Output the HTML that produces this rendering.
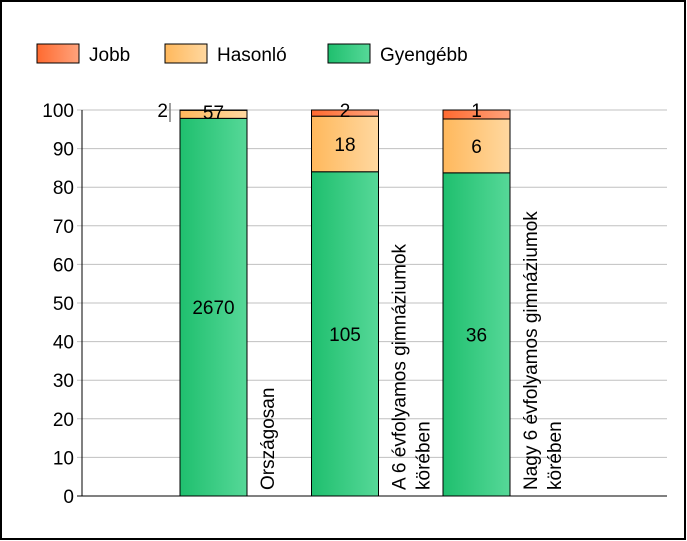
<!DOCTYPE html>
<html><head><meta charset="utf-8"><style>
body{margin:0;background:#fff;font-family:"Liberation Sans",sans-serif}
svg{display:block}
</style></head><body>
<svg id="chart" width="687" height="541" xmlns="http://www.w3.org/2000/svg">
<defs>
<linearGradient id="gG" x1="0" x2="1"><stop offset="0" stop-color="#1fbf6e"/><stop offset="1" stop-color="#56d898"/></linearGradient>
<linearGradient id="gO" x1="0" x2="1"><stop offset="0" stop-color="#ffb85c"/><stop offset="1" stop-color="#ffd8a0"/></linearGradient>
<linearGradient id="gR" x1="0" x2="1"><stop offset="0" stop-color="#ff6a30"/><stop offset="1" stop-color="#ffa37c"/></linearGradient>
</defs>
<rect x="1" y="1" width="684" height="538" fill="#fff" stroke="#000" stroke-width="2"/>
<g>
<g><rect x="37" y="44" width="42" height="19" fill="url(#gR)" stroke="#000"/><text x="89" y="61" font-size="19">Jobb</text></g>
<g><rect x="165" y="44" width="42" height="19" fill="url(#gO)" stroke="#000"/><text x="217" y="61" font-size="19">Hasonló</text></g>
<g><rect x="328" y="44" width="42" height="19" fill="url(#gG)" stroke="#000"/><text x="380" y="61" font-size="19">Gyengébb</text></g>
</g>
<g id="grid"></g><g id="bars"></g><g id="labels"></g>
</svg>
<script>
const categories=[["Országosan"],["A 6 évfolyamos gimnáziumok","körében"],["Nagy 6 évfolyamos gimnáziumok","körében"]];
const gyengebb=[2670,105,36];
const hasonlo=[57,18,6];
const jobb=[2,2,1];
const yTicks=[0,10,20,30,40,50,60,70,80,90,100];
const NS="http://www.w3.org/2000/svg";
const x0=82,x1=667,yTop=110,yBot=496;
const y=v=>yBot-(yBot-yTop)*v/100;
const barX=i=>180+i*131.5, bw=67;
function mk(t,a,p,txt){const e=document.createElementNS(NS,t);for(const k in a)e.setAttribute(k,a[k]);if(txt!=null)e.textContent=txt;p.appendChild(e);return e;}
const grid=document.getElementById('grid'),bars=document.getElementById('bars'),labels=document.getElementById('labels');
yTicks.forEach(t=>{
 const l=mk('line',{x1:x0-5,x2:x1,y1:y(t),y2:y(t),stroke:t===0?'#000':'#c0c0c0','stroke-width':1},grid);
 
 
 const tx=mk('text',{x:x0-8,y:y(t)+7,'text-anchor':'end','font-size':19},grid,t);
 
 
});
const ax=mk('line',{x1:x0,x2:x0,y1:yTop,y2:yBot,stroke:'#000'},grid);


const bx=mk('line',{x1:x0,x2:x1,y1:yBot,y2:yBot,stroke:'#000'},grid);


categories.forEach((c,i)=>{
 const tot=gyengebb[i]+hasonlo[i]+jobb[i];
 const segs=[[gyengebb[i],'url(#gG)','gyengebb'],[hasonlo[i],'url(#gO)','hasonlo'],[jobb[i],'url(#gR)','jobb']];
 let acc=0;const X=barX(i);
 segs.forEach((s,k)=>{
  const p0=acc/tot*100,p1=(acc+s[0])/tot*100;acc+=s[0];
  const r=mk('rect',{x:X,y:y(p1),width:bw,height:y(p0)-y(p1),fill:s[1],stroke:'#000','stroke-width':1},bars);
  
  
  let lx=X+bw/2,ly=(y(p0)+y(p1))/2+7;
  if(k===2&&i===0){lx=X-12;ly=y(100)+7;}
  else if(k===2){ly=y(100)+7;}
  else if(k===1&&i===0){ly=y(100)+9;}
  const t=mk('text',{x:lx,y:ly,'text-anchor':k===2&&i===0?'end':'middle','font-size':19},bars,s[0]);
  
  
 });
 if(i===0){const tk=mk('line',{x1:X-10,x2:X-10,y1:y(100)-7,y2:y(100)+12,stroke:'#808080','stroke-width':1.5},bars);
  
  }
 c.forEach((line,j)=>{
  const lxp=X+bw+27+j*24;
  const t=mk('text',{x:lxp,y:490,'font-size':19,transform:`rotate(-90 ${lxp} 490)`},labels,line);
  
  
 });
});
</script>
</body></html>
